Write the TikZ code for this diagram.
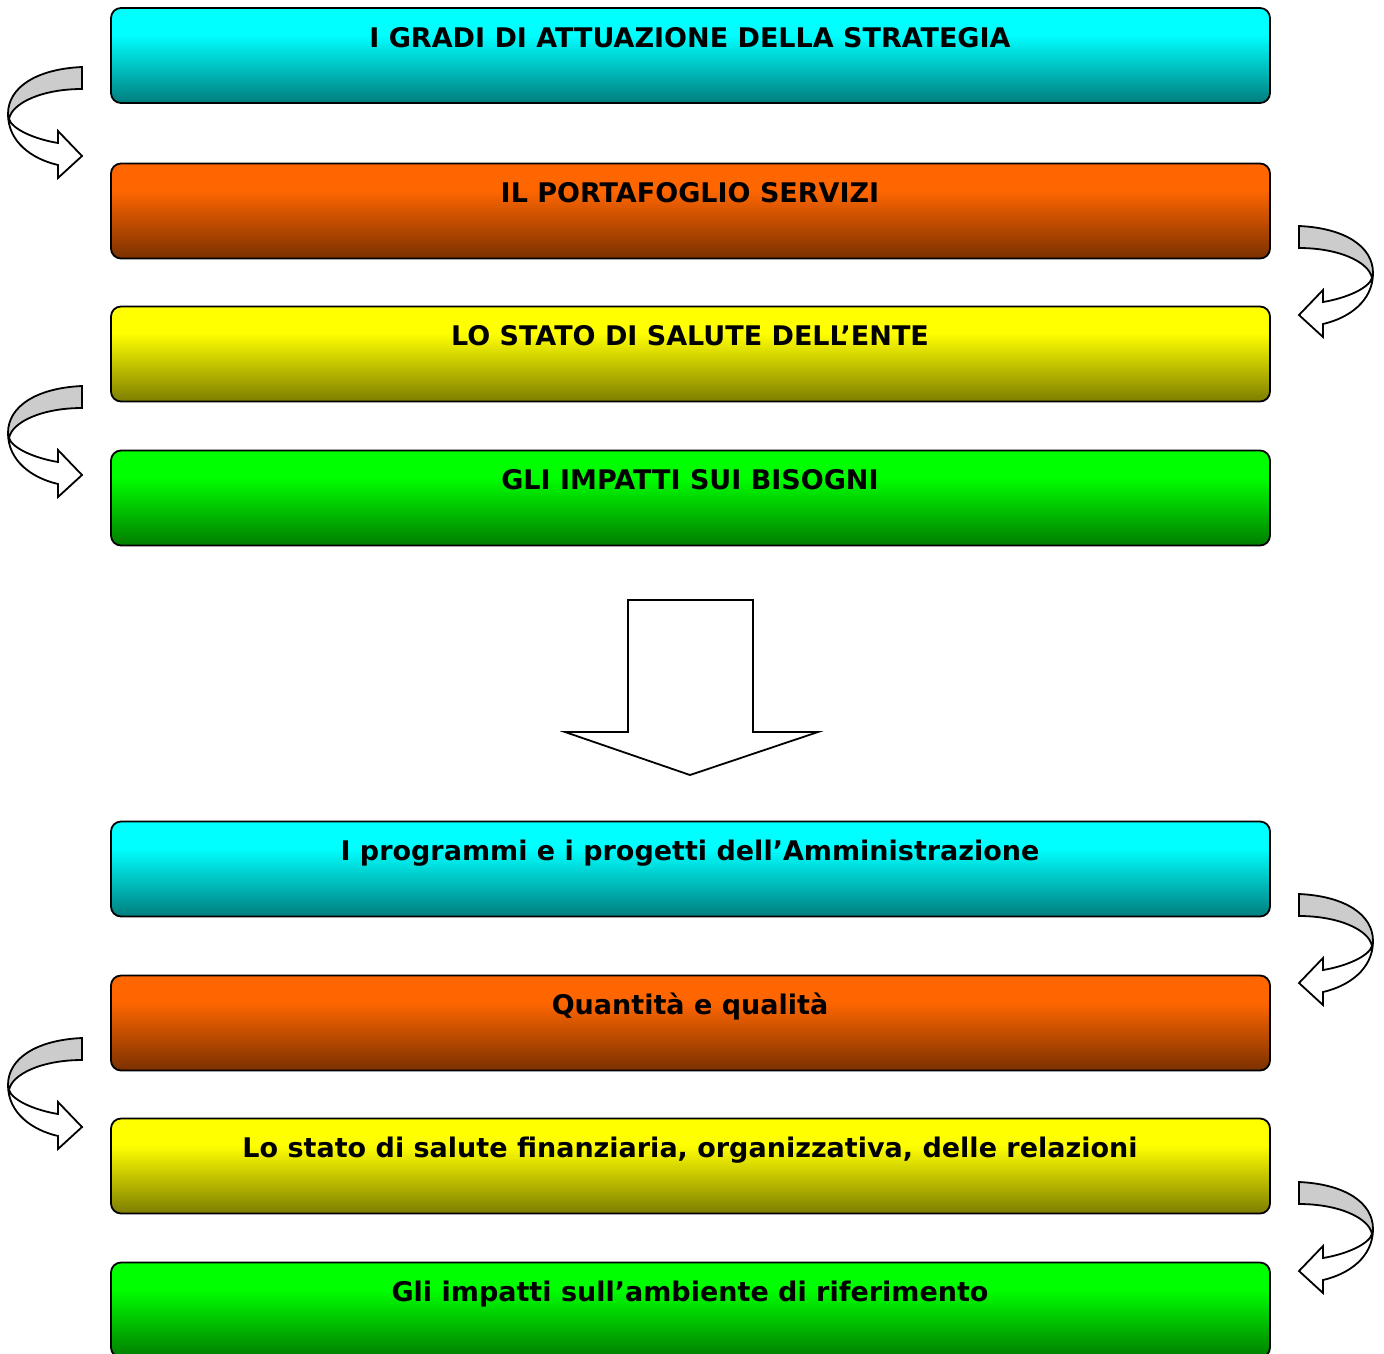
\documentclass[tikz,border=0pt]{standalone}
\usepackage{fontspec}
\setmainfont{DejaVu Sans}
\definecolor{cyTop}{RGB}{0,255,255}
\definecolor{cyBot}{RGB}{0,125,125}
\definecolor{orTop}{RGB}{255,102,0}
\definecolor{orBot}{RGB}{122,48,0}
\definecolor{yeTop}{RGB}{255,255,0}
\definecolor{yeBot}{RGB}{125,125,0}
\definecolor{grTop}{RGB}{0,255,0}
\definecolor{grBot}{RGB}{0,125,0}
\definecolor{bandGray}{RGB}{204,204,204}
\pgfdeclareverticalshading{cyshade}{100bp}{color(0bp)=(cyBot); color(25bp)=(cyBot); color(61bp)=(cyTop); color(100bp)=(cyTop)}
\pgfdeclareverticalshading{orshade}{100bp}{color(0bp)=(orBot); color(25bp)=(orBot); color(61bp)=(orTop); color(100bp)=(orTop)}
\pgfdeclareverticalshading{yeshade}{100bp}{color(0bp)=(yeBot); color(25bp)=(yeBot); color(61bp)=(yeTop); color(100bp)=(yeTop)}
\pgfdeclareverticalshading{grshade}{100bp}{color(0bp)=(grBot); color(25bp)=(grBot); color(61bp)=(grTop); color(100bp)=(grTop)}
\tikzset{
  box/.style={draw=black, line width=1.8pt, rounded corners=10pt, minimum width=1159pt, minimum height=95pt, inner sep=0pt},
  cyanbox/.style={box, shading=cyshade},
  orangebox/.style={box, shading=orshade},
  yellowbox/.style={box, shading=yeshade},
  greenbox/.style={box, shading=grshade},
  boxtext/.style={anchor=base, font=\fontsize{27}{32}\selectfont\bfseries, text=black, inner sep=0pt},
  arrowline/.style={draw=black, line width=1.8pt, line join=miter},
  carrow/.pic={
    \draw[arrowline, fill=white] (74,47) .. controls (74,75) and (50,92) .. (24,98) -- (24,111) -- (0,89) -- (24,64) -- (24,76) .. controls (48,72) and (70,62) .. (73,52) -- cycle;
    \draw[arrowline, fill=bandGray] (0,0) .. controls (45,2) and (74,20) .. (74,47) -- (73,52) .. controls (70,36) and (40,22) .. (0,22) -- cycle;
  }
}
\begin{document}
\begin{tikzpicture}[x=1pt,y=-1pt]
\clip (0,0) rectangle (1384,1353);
\fill[white] (0,0) rectangle (1384,1353);
% boxes
\node[cyanbox]   (b1) at (690.5,55.5) {};
\node[orangebox] (b2) at (690.5,211) {};
\node[yellowbox] (b3) at (690.5,354) {};
\node[greenbox]  (b4) at (690.5,498) {};
\node[cyanbox]   (b5) at (690.5,869) {};
\node[orangebox] (b6) at (690.5,1023) {};
\node[yellowbox] (b7) at (690.5,1166) {};
\node[greenbox]  (b8) at (690.5,1310) {};
% texts
\node[boxtext] (t1) at (690,47) {I GRADI DI ATTUAZIONE DELLA STRATEGIA};
\node[boxtext] (t2) at (690,202) {IL PORTAFOGLIO SERVIZI};
\node[boxtext] (t3) at (690,345) {LO STATO DI SALUTE DELL’ENTE};
\node[boxtext] (t4) at (690,489) {GLI IMPATTI SUI BISOGNI};
\node[boxtext] (t5) at (690,860) {I programmi e i progetti dell’Amministrazione};
\node[boxtext] (t6) at (690,1014) {Quantità e qualità};
\node[boxtext] (t7) at (690,1157) {Lo stato di salute finanziaria, organizzativa, delle relazioni};
\node[boxtext] (t8) at (690,1301) {Gli impatti sull’ambiente di riferimento};
% curved arrows
\pic[xscale=-1] at (82,67) {carrow};
\pic[xscale=-1] at (82,386) {carrow};
\pic[xscale=-1] at (82,1038) {carrow};
\pic at (1299,226) {carrow};
\pic at (1299,894) {carrow};
\pic at (1299,1182) {carrow};
% big down arrow
\draw[arrowline, fill=white] (628,600) -- (753,600) -- (753,732) -- (818,732) -- (690,775) -- (565,732) -- (628,732) -- cycle;
\end{tikzpicture}
\end{document}
